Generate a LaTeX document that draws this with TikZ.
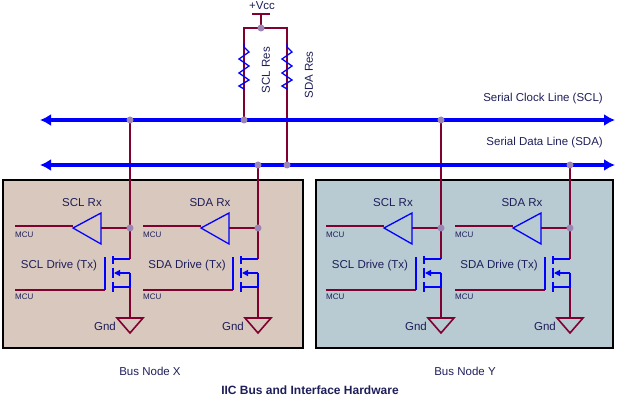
\documentclass[tikz,border=0pt]{standalone}
\usepackage{fontspec}
\setmainfont{Liberation Sans}
\usetikzlibrary{arrows.meta,calc}
\definecolor{wire}{HTML}{800030}
\definecolor{dev}{HTML}{0000FF}
\definecolor{junc}{HTML}{9C86B6}
\definecolor{txt}{HTML}{1E1E5A}
\definecolor{boxX}{HTML}{D9C8BD}
\definecolor{boxY}{HTML}{B8CAD2}
\tikzset{
  wire/.style={draw=wire, line width=1.6pt},
  dev/.style={draw=dev, line width=1.3pt},
  bus/.style={draw=dev, line width=4pt, {Latex[length=11pt,width=12pt]}-{Latex[length=11pt,width=12pt]}},
  dot/.style={circle, fill=junc, inner sep=0pt, minimum size=7pt},
  lbl/.style={text=txt, font=\fontsize{11.5}{13}\selectfont, inner sep=1pt},
  small/.style={text=txt, font=\fontsize{8}{9}\selectfont, inner sep=0pt},
  frame/.style={draw=black, line width=1.2pt},
}
\begin{document}
\begin{tikzpicture}[x=1pt, y=-1pt]
\useasboundingbox (0,0) rectangle (622,401);

% node boxes
\draw[frame, fill=boxX] (3,180) rectangle (303,348);
\draw[frame, fill=boxY] (316,180) rectangle (613,348);

% pull-up resistors
\node[lbl] (vcc) at (262,6) {+Vcc};
\coordinate (vbar) at (261,14);
\coordinate (vtop) at (261,28);
\draw[wire] ($(vbar)+(-9,0)$) -- ($(vbar)+(9,0)$);
\draw[wire] (vbar) -- (vtop);
\draw[wire] (244,120) -- (244,28) -- (287,28) -- (287,165);
\foreach \rx in {244,287}
  \draw[dev, fill=none] (\rx,44) -- (\rx,47) -- (\rx+5,52) -- (\rx-5,59) -- (\rx+5,66) -- (\rx-5,73)
    -- (\rx+5,80) -- (\rx-5,86) -- (\rx,89) -- (\rx,90);
\node[dot] (vdot) at (vtop) {};
\node[lbl, rotate=90] (sclres) at (266,70) {SCL Res};
\node[lbl, rotate=90] (sdares) at (309,75) {SDA Res};

% interface channels
\foreach \L/\lab/\bus/\nm in {130/SCL/120/xc, 258/SDA/165/xd, 441/SCL/120/yc, 570/SDA/165/yd}{
  \coordinate (\nm tap) at (\L,\bus);
  \coordinate (\nm rx) at (\L,228);
  \draw[wire] (\nm tap) -- (\L,259);
  \draw[wire] (\L,287) -- (\L,318);
  % receiver
  \draw[wire] (\L-29,228) -- (\nm rx);
  \draw[wire] (\L-115,226) -- (\L-57,226);
  \draw[dev] (\L-57,228) -- (\L-29,213) -- (\L-29,244) -- cycle;
  \node[dot] (\nm dot) at (\nm rx) {};
  \node[lbl] (\nm rxl) at (\L-48,203) {\lab\ Rx};
  \node[small, anchor=west] (\nm mcua) at (\L-115,235) {MCU};
  % driver
  \draw[wire] (\L-115,290) -- (\L-25,290);
  \draw[dev] (\L-25,290) -- (\L-25,257);
  \draw[dev] (\L,259) -- (\L-17,259);
  \foreach \a/\b in {256/264,268/278,282/292}
    \draw[dev] (\L-17,\a) -- (\L-17,\b);
  \draw[dev, -{Triangle[length=6pt,width=6pt]}] (\L,273) -- (\L-16,273);
  \draw[dev] (\L,273) -- (\L,287) -- (\L-17,287);
  \node[lbl] (\nm txl) at (\L-71,266) {\lab\ Drive (Tx)};
  \node[small, anchor=west] (\nm mcub) at (\L-115,297) {MCU};
  % ground
  \draw[wire] (\L-13,318) -- (\L+13,318) -- (\L,333) -- cycle;
  \node[lbl] (\nm gnd) at (\L-25,326) {Gnd};
}

% bus lines
\coordinate (sclL) at (40,120);
\coordinate (sclR) at (615,120);
\coordinate (sdaL) at (40,165);
\coordinate (sdaR) at (615,165);
\draw[bus] (sclL) -- (sclR);
\draw[bus] (sdaL) -- (sdaR);
\foreach \p in {xctap,xdtap,yctap,ydtap}
  \node[dot] at (\p) {};
\node[dot] (sclres dot) at (244,120) {};
\node[dot] (sdares dot) at (287,165) {};
\node[lbl, anchor=east] (scl) at (604,99) {Serial Clock Line (SCL)};
\node[lbl, anchor=east] (sda) at (604,143) {Serial Data Line (SDA)};

% captions
\node[lbl] (nodex) at (150,371) {Bus Node X};
\node[lbl] (nodey) at (465,371) {Bus Node Y};
\node[lbl, font=\fontsize{12}{13}\selectfont\bfseries] (title) at (310,390) {IIC Bus and Interface Hardware};
\end{tikzpicture}
\end{document}
